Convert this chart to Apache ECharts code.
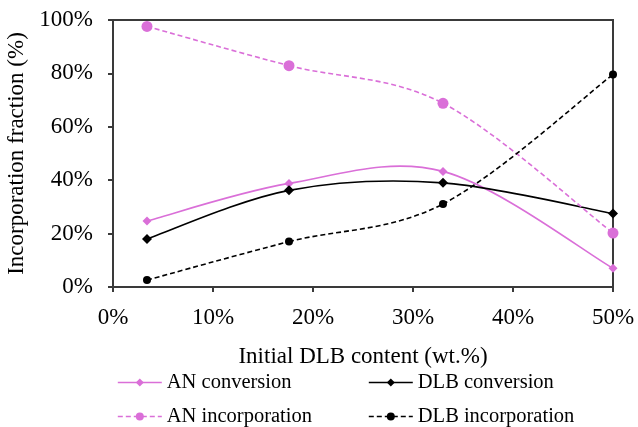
<!DOCTYPE html>
<html>
<head>
<meta charset="utf-8">
<script src="https://cdn.jsdelivr.net/npm/echarts@6/dist/echarts.min.js"></script>
<style>
  html, body { margin: 0; padding: 0; background: #fff; }
  #chart { width: 638px; height: 427px; }
</style>
</head>
<body>
<div id="chart"></div>
<script>
// DLB content (wt.%) of the four samples
var dlbContent = [3.4, 17.6, 33.0, 50.0];
var anConversion = [24.7, 38.8, 43.3, 7.0];
var dlbConversion = [18.0, 36.2, 39.0, 27.5];
var anIncorporation = [97.6, 82.9, 68.8, 20.2];
var dlbIncorporation = [2.6, 17.0, 31.1, 79.6];

var pink = "#DA6FD8";
var black = "#000000";
var axisColor = "#3a3a3a";
var font = "Liberation Serif";
var dash = [5, 3];

function pairs(ys) {
  return dlbContent.map(function (x, i) { return [x, ys[i]]; });
}

// markers only; the curve is drawn by the custom series below
function markerSeries(name, ys, color, symbol, size) {
  return {
    name: name,
    type: "line",
    data: pairs(ys),
    symbol: symbol,
    symbolSize: size,
    showAllSymbol: true,
    z: 3,
    itemStyle: { color: color },
    lineStyle: { opacity: 0 },
    emphasis: { disabled: true }
  };
}

// smoothed curve like the spreadsheet one (catmull-rom through the points)
function curveSeries(name, ys, color, dashed) {
  return {
    name: name + " curve",
    type: "custom",
    data: pairs(ys),
    encode: { x: 0, y: 1 },
    z: 2,
    silent: true,
    renderItem: function (params, api) {
      var i = params.dataIndex;
      var n = ys.length;
      if (i >= n - 1) return;
      var pt = function (k) {
        k = Math.max(0, Math.min(n - 1, k));
        return api.coord([dlbContent[k], ys[k]]);
      };
      var p0 = pt(i - 1), p1 = pt(i), p2 = pt(i + 1), p3 = pt(i + 2);
      return {
        type: "bezierCurve",
        shape: {
          x1: p1[0], y1: p1[1],
          x2: p2[0], y2: p2[1],
          cpx1: p1[0] + (p2[0] - p0[0]) / 6,
          cpy1: p1[1] + (p2[1] - p0[1]) / 6,
          cpx2: p2[0] - (p3[0] - p1[0]) / 6,
          cpy2: p2[1] - (p3[1] - p1[1]) / 6
        },
        style: { stroke: color, fill: null, lineWidth: 1.6, lineDash: dashed ? dash : null }
      };
    }
  };
}

function legendItem(name, color, dashed, left, top) {
  return {
    data: [{
      name: name,
      lineStyle: { color: color, width: 1.6, type: dashed ? dash : "solid", opacity: 1 }
    }],
    left: left, top: top, padding: 0,
    itemWidth: 44, itemHeight: 10,
    textStyle: { fontFamily: font, fontSize: 20.5, color: "#000" }
  };
}

var chart = echarts.init(document.getElementById("chart"));
var option = {
  animation: false,
  textStyle: { fontFamily: font },
  grid: {
    left: 113, right: 25, top: 20, bottom: 140,
    outerBoundsMode: "none",
    show: true, borderColor: axisColor, borderWidth: 2
  },
  legend: [
    legendItem("AN conversion", pink, false, 117, 372),
    legendItem("AN incorporation", pink, true, 117, 406),
    legendItem("DLB conversion", black, false, 368, 372),
    legendItem("DLB incorporation", black, true, 368, 406)
  ],
  xAxis: {
    type: "value",
    min: 0, max: 50, interval: 10,
    name: "Initial DLB content (wt.%)",
    nameLocation: "middle",
    nameGap: 58,
    nameTextStyle: { fontFamily: font, fontSize: 23, color: "#000" },
    axisLine: { show: true, lineStyle: { color: axisColor, width: 2 } },
    axisTick: { show: true, length: 5, lineStyle: { color: axisColor, width: 2 } },
    axisLabel: { formatter: "{value}%", fontFamily: font, fontSize: 23, color: "#000", margin: 19 },
    splitLine: { show: false }
  },
  yAxis: {
    type: "value",
    min: 0, max: 100, interval: 20,
    name: "Incorporation fraction (%)",
    nameLocation: "middle",
    nameGap: 76,
    nameTextStyle: { fontFamily: font, fontSize: 23, color: "#000" },
    axisLine: { show: true, lineStyle: { color: axisColor, width: 2 } },
    axisTick: { show: true, length: 5, lineStyle: { color: axisColor, width: 2 } },
    axisLabel: { formatter: "{value}%", fontFamily: font, fontSize: 23, color: "#000", margin: 20 },
    splitLine: { show: false }
  },
  series: [
    curveSeries("AN conversion", anConversion, pink, false),
    curveSeries("DLB conversion", dlbConversion, black, false),
    curveSeries("AN incorporation", anIncorporation, pink, true),
    curveSeries("DLB incorporation", dlbIncorporation, black, true),
    markerSeries("AN conversion", anConversion, pink, "diamond", 9),
    markerSeries("DLB conversion", dlbConversion, black, "diamond", 10),
    markerSeries("AN incorporation", anIncorporation, pink, "circle", 11),
    markerSeries("DLB incorporation", dlbIncorporation, black, "circle", 8)
  ]
};
chart.setOption(option);
</script>
</body>
</html>
